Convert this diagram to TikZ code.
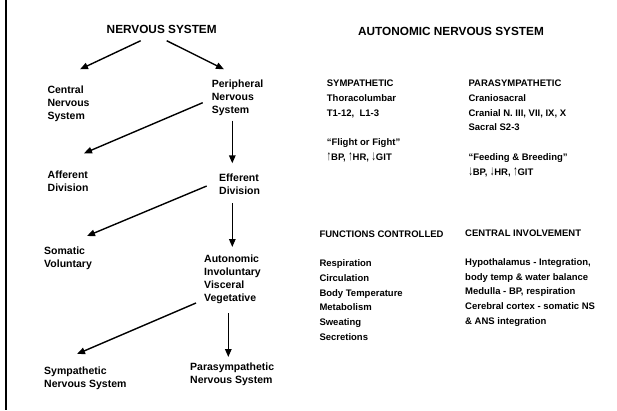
\documentclass[tikz,border=0pt]{standalone}
\usepackage{fontspec}
\setmainfont{Liberation Sans}
\usetikzlibrary{arrows.meta}
\newcommand{\myup}{\raisebox{-0.2pt}{\scalebox{0.9}[1.45]{↑}}}
\newcommand{\mydown}{\raisebox{-0.2pt}{\scalebox{0.9}[1.45]{↓}}}
\begin{document}
\begin{tikzpicture}[x=1pt,y=-1pt,
  lbl/.style={anchor=north west,inner sep=0pt,align=left,font=\fontsize{10.5}{13}\selectfont\bfseries},
  rlbl/.style={anchor=north west,inner sep=0pt,align=left,font=\fontsize{9.5}{14.7}\selectfont\bfseries},
  title/.style={anchor=north,inner sep=0pt,font=\fontsize{11.8}{14}\selectfont\bfseries},
  arr/.style={line width=1.4pt,-{Triangle[length=8pt,width=6.5pt]}}]
\useasboundingbox (0,0) rectangle (617,410);
\fill[white] (0,0) rectangle (617,410);
\draw[line width=2.3pt] (6.2,0) -- (6.2,410);
% left tree
\node[title] (ns) at (161.7,25.3) {NERVOUS SYSTEM};
\node[lbl] (cns) at (47.3,86) {Central\\Nervous\\System};
\node[lbl] (pns) at (211.7,80) {Peripheral\\Nervous\\System};
\node[lbl] (aff) at (47.5,170.7) {Afferent\\Division};
\node[lbl] (eff) at (219,174) {Efferent\\Division};
\node[lbl] (som) at (44,246.7) {Somatic\\Voluntary};
\node[lbl] (aut) at (204,255) {Autonomic\\Involuntary\\Visceral\\Vegetative};
\node[lbl] (sym) at (44,366.7) {Sympathetic\\Nervous System};
\node[lbl] (par) at (190,362.7) {Parasympathetic\\Nervous System};
% connector ends
\coordinate (ns-l) at (140.7,40.7);
\coordinate (ns-r) at (166.7,40.7);
\coordinate (cns-t) at (80,69.3);
\coordinate (pns-t) at (224,69.3);
\coordinate (pns-l) at (202.7,102.7);
\coordinate (pns-b) at (232.3,120.7);
\coordinate (aff-t) at (84,153.3);
\coordinate (eff-t) at (232.3,163.3);
\coordinate (eff-l) at (206.7,186);
\coordinate (eff-b) at (232.3,203);
\coordinate (som-t) at (87,236);
\coordinate (aut-t) at (232.3,247);
\coordinate (aut-l) at (196,303);
\coordinate (aut-b) at (228.3,313);
\coordinate (sym-t) at (77,354);
\coordinate (par-t) at (228.3,357);
\draw[arr] (ns-l) -- (cns-t);
\draw[arr] (ns-r) -- (pns-t);
\draw[arr] (pns-l) -- (aff-t);
\draw[arr] (pns-b) -- (eff-t);
\draw[arr] (eff-l) -- (som-t);
\draw[arr] (eff-b) -- (aut-t);
\draw[arr] (aut-l) -- (sym-t);
\draw[arr] (aut-b) -- (par-t);
% right side
\node[title] (ans) at (451,27.5) {AUTONOMIC NERVOUS SYSTEM};
\node[rlbl] (symp) at (326.7,80) {SYMPATHETIC\\Thoracolumbar\\T1-12,\ \ L1-3\\[14.7pt]“Flight or Fight”\\\myup BP, \myup HR, \mydown GIT};
\node[rlbl] (para) at (468.3,80) {PARASYMPATHETIC\\Craniosacral\\Cranial N. III, VII, IX, X\\Sacral S2-3\\[14.7pt]“Feeding \& Breeding”\\\mydown BP, \mydown HR, \myup GIT};
\node[rlbl] (func) at (319.3,230.5) {FUNCTIONS CONTROLLED\\[14.7pt]Respiration\\Circulation\\Body Temperature\\Metabolism\\Sweating\\Secretions};
\node[rlbl] (cent) at (465,229.3) {CENTRAL INVOLVEMENT\\[14.7pt]Hypothalamus - Integration,\\body temp \& water balance\\Medulla - BP, respiration\\Cerebral cortex - somatic NS\\\& ANS integration};
\end{tikzpicture}
\end{document}
